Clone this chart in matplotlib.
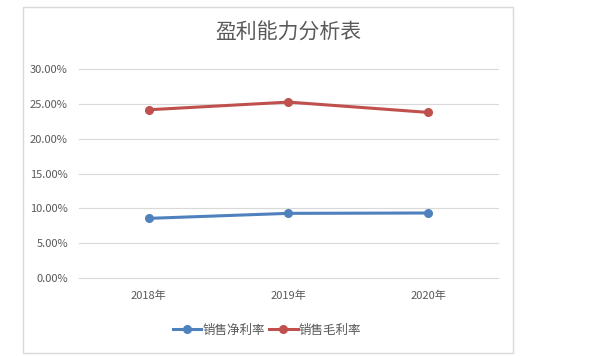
import matplotlib
matplotlib.use("Agg")
import matplotlib.pyplot as plt
from matplotlib.patches import Rectangle
from matplotlib.ticker import FuncFormatter, MultipleLocator

plt.rcParams['font.family'] = ['Noto Sans CJK SC', 'DejaVu Sans']

categories = ["2018年", "2019年", "2020年"]
net_margin = [8.56, 9.28, 9.33]
gross_margin = [24.15, 25.25, 23.77]
series_names = ["销售净利率", "销售毛利率"]
title = "盈利能力分析表"

fig = plt.figure(figsize=(6.14, 3.56), dpi=100)
fig.patches.append(Rectangle((23/614, 1-353/356), 490/614, 346/356, transform=fig.transFigure,
                             fill=False, edgecolor='#d9d9d9', linewidth=1.0))
ax = fig.add_axes([79/614, 1-278/356, 419/614, 209/356])

x = list(range(len(categories)))
ax.plot(x, net_margin, color='#4f81bd', linewidth=2.2, marker='o', markersize=5.5, label=series_names[0])
ax.plot(x, gross_margin, color='#c0504d', linewidth=2.2, marker='o', markersize=5.5, label=series_names[1])

ax.set_xlim(-0.5, 2.5)
ax.set_ylim(0, 30)
ax.yaxis.set_major_locator(MultipleLocator(5))
ax.yaxis.set_major_formatter(FuncFormatter(lambda v, p: f"{v:.2f}%"))
ax.set_xticks(x)
ax.set_xticklabels(categories)
ax.grid(axis='y', color='#d9d9d9', linewidth=0.8)
for gl in ax.get_ygridlines():
    gl.set_clip_on(False)
ax.set_axisbelow(True)
for s in ax.spines.values():
    s.set_visible(False)
ax.tick_params(length=0, labelsize=8, colors='#595959', pad=8)
ax.tick_params(axis='x', pad=9)

fig.text(288/614, 1-33/356, title, ha='center', va='center', fontsize=15, color='#595959', fontweight='light')

leg = fig.legend(loc='center', bbox_to_anchor=(267/614, 1-330/356), ncol=2, frameon=False,
                 fontsize=9, handlelength=2.3, columnspacing=0.3, handletextpad=0.1)
for t in leg.get_texts():
    t.set_color('#595959')

fig.savefig("out.png", dpi=100)
